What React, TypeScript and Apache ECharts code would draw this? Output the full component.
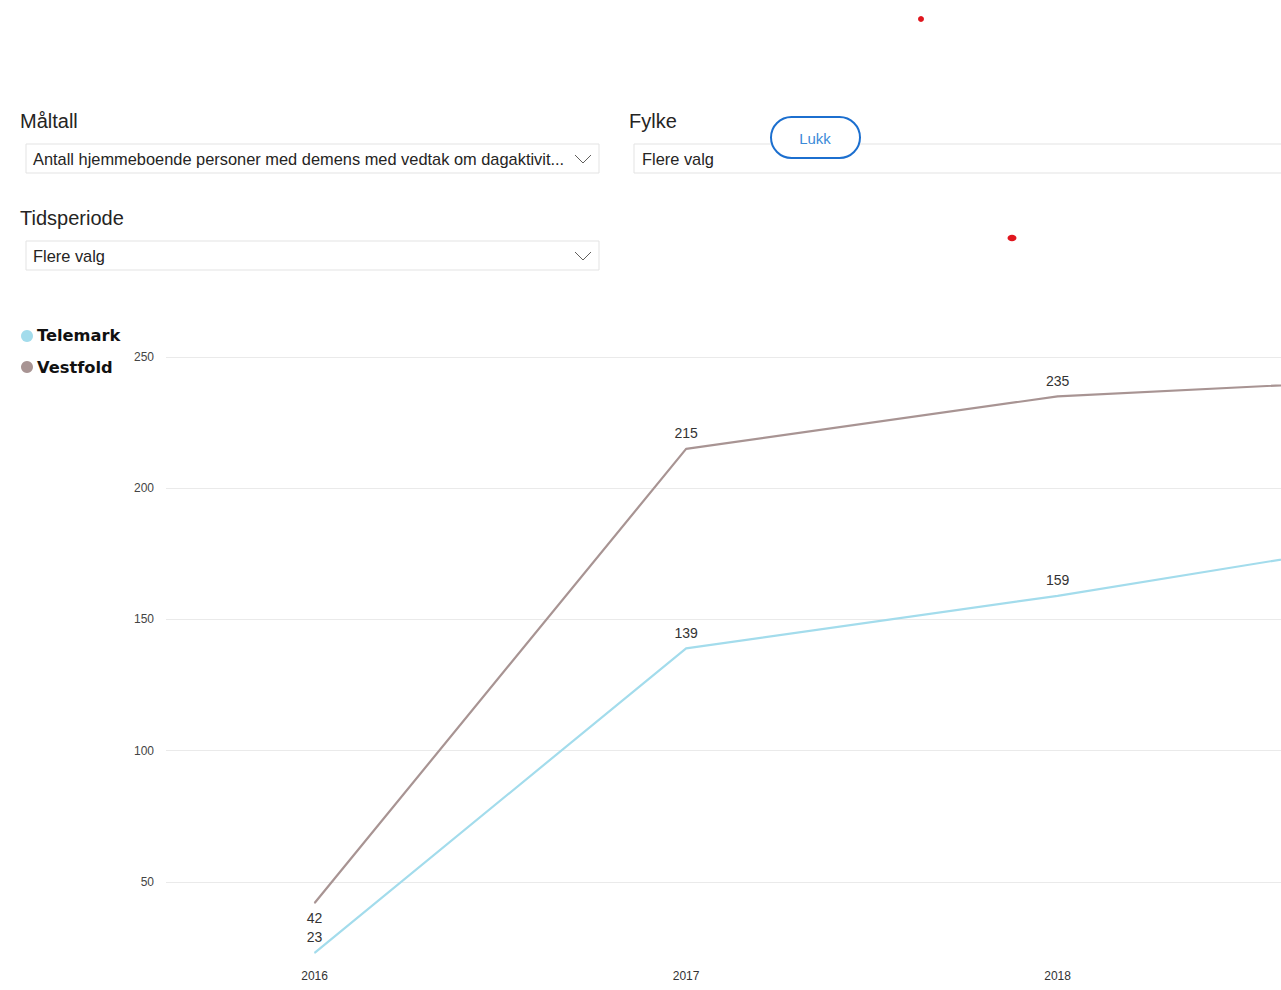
import React, { useEffect, useRef } from "react";
import * as echarts from "echarts";

const years = [2016, 2017, 2018, 2019];
const telemark = [23, 139, 159, 182];
const vestfold = [42, 215, 235, 242];
const yTicks = [50, 100, 150, 200, 250];
const visibleYears = [2016, 2017, 2018];
const seriesNames = ["Telemark", "Vestfold"];
const seriesColors = ["#A3DCEC", "#A89493"];
const FONT = "'Liberation Sans', Arial, sans-serif";
const CHART_W = 1800;

export default function App() {
  const ref = useRef<HTMLDivElement>(null);
  useEffect(() => {
    if (!ref.current) return;
    const chart = echarts.init(ref.current, undefined, { renderer: "svg" });
    const labelStyle = { show: true, fontSize: 14, color: "#333333", fontFamily: FONT, distance: 8 };
    const mkData = (vals: number[], bottomIdx: number[]) =>
      years.map((y, i) => ({
        value: [y, vals[i]],
        label: {
          show: visibleYears.includes(y),
          position: bottomIdx.includes(i) ? "bottom" : "top",
        },
      }));
    const chev = (x: number, y: number) => ({
      type: "polyline",
      shape: { points: [[x, y], [x + 8, y + 8], [x + 16, y]] },
      style: { stroke: "#605E5C", lineWidth: 1, fill: null },
    });
    const box = (x: number, y: number, w: number) => ({
      type: "rect",
      shape: { x, y, width: w, height: 29 },
      style: { fill: "#fff", stroke: "#E3E3E3", lineWidth: 1 },
    });
    const txt = (x: number, y: number, text: string, size: number, color = "#252423", weight: any = "normal", font = FONT) => ({
      type: "text",
      x,
      y,
      style: { text, fontSize: size, fill: color, fontFamily: font, fontWeight: weight, textVerticalAlign: "middle" },
    });
    chart.setOption({
      animation: false,
      grid: { left: 166, top: 357, bottom: 28, right: CHART_W - 166 - 1486, containLabel: false },
      xAxis: {
        type: "value",
        min: 2015.6,
        max: 2019.6,
        axisLine: { show: false },
        axisTick: { show: false },
        splitLine: { show: false },
        axisLabel: {
          customValues: visibleYears,
          fontSize: 12,
          color: "#333333",
          fontFamily: FONT,
          margin: 8,
          formatter: (v: number) => String(v),
        },
      },
      yAxis: {
        type: "value",
        min: 19.5,
        max: 250,
        splitNumber: 5,
        axisLine: { show: false },
        axisTick: { show: false },
        axisLabel: {
          showMinLabel: false,
          fontSize: 12,
          color: "#444444",
          fontFamily: FONT,
          margin: 12,
          formatter: (v: number) => (yTicks.includes(v) ? String(v) : ""),
        },
        splitLine: { showMinLine: false, lineStyle: { color: "#EAEAEA", width: 1 } },
      },
      series: [
        {
          name: seriesNames[0],
          type: "line",
          symbol: "circle",
          symbolSize: 1,
          showSymbol: true,
          lineStyle: { color: seriesColors[0], width: 2.2 },
          itemStyle: { color: seriesColors[0] },
          label: labelStyle,
          data: mkData(telemark, []),
        },
        {
          name: seriesNames[1],
          type: "line",
          symbol: "circle",
          symbolSize: 1,
          showSymbol: true,
          lineStyle: { color: seriesColors[1], width: 2.2 },
          itemStyle: { color: seriesColors[1] },
          label: labelStyle,
          data: mkData(vestfold, [0]),
        },
      ],
      graphic: [
        txt(20, 121, "Måltall", 20),
        box(26, 144, 573),
        txt(33, 159, "Antall hjemmeboende personer med demens med vedtak om dagaktivit...", 16.4),
        chev(575, 155),
        txt(629, 121, "Fylke", 20),
        box(634, 144, 700),
        txt(642, 159, "Flere valg", 16.4),
        {
          type: "rect",
          shape: { x: 771, y: 117, width: 89, height: 41, r: 20.5 },
          style: { fill: "#fff", stroke: "#1C6FCF", lineWidth: 2 },
        },
        {
          type: "text",
          x: 815,
          y: 138,
          style: { text: "Lukk", fontSize: 15, fill: "#3B8AD8", fontFamily: FONT, textAlign: "center", textVerticalAlign: "middle" },
        },
        txt(20, 218, "Tidsperiode", 20),
        box(26, 241, 573),
        txt(33, 256, "Flere valg", 16.4),
        chev(575, 252),
        { type: "circle", shape: { cx: 27, cy: 336, r: 6 }, style: { fill: seriesColors[0] } },
        txt(37, 335, seriesNames[0], 16.3, "#111", "bold", "'DejaVu Sans', sans-serif"),
        { type: "circle", shape: { cx: 27, cy: 367, r: 6 }, style: { fill: seriesColors[1] } },
        txt(37, 367, seriesNames[1], 16.3, "#111", "bold", "'DejaVu Sans', sans-serif"),
        { type: "circle", shape: { cx: 921, cy: 19, r: 3 }, style: { fill: "#E0161E" } },
        { type: "ellipse", shape: { cx: 1012, cy: 238, rx: 4.5, ry: 3.2 }, style: { fill: "#E0161E" } },
      ],
    });
    return () => chart.dispose();
  }, []);
  return (
    <div style={{ position: "fixed", left: 0, top: 0, width: 1281, height: 990, overflow: "hidden", background: "#fff" }}>
      <div ref={ref} style={{ width: CHART_W, height: 990 }} />
    </div>
  );
}
